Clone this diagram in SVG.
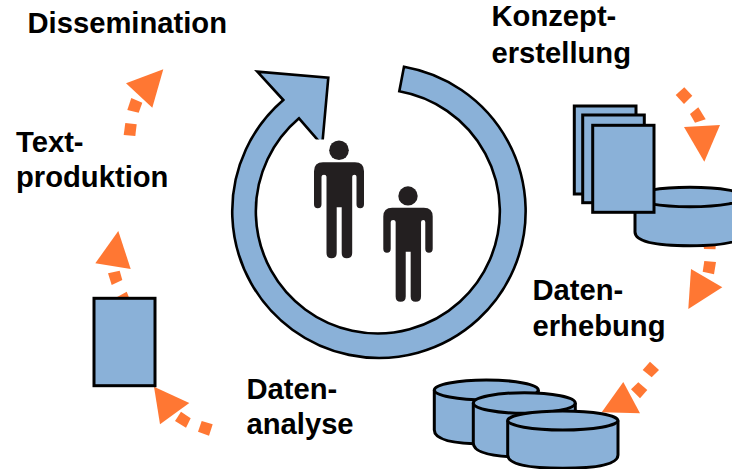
<svg xmlns="http://www.w3.org/2000/svg" xmlns:xlink="http://www.w3.org/1999/xlink" width="732" height="469" viewBox="0 0 732 469">
<style>
.t{font-family:"Liberation Sans",Arial,sans-serif;font-weight:700;font-size:29.2px;fill:#000}
.b{fill:#8AB1D8;stroke:#000;stroke-width:3;stroke-linejoin:miter}
.r{stroke-width:2.6}
.o{fill:#FF7733}
.p{fill:#231F20}
</style>
<defs>
<g id="person">
<circle cx="25" cy="-12" r="9.8"/>
<path d="M9 0H41Q50 0 50 9V42Q50 46 46.2 46Q42.5 46 42.5 42V14.5Q42.5 12.5 40.5 12.5Q38.2 12.5 38.2 14.5V90.5Q38.2 96 32.7 96Q27.7 96 27.7 90.5V45H22.7V90.5Q22.7 96 17.5 96Q12.5 96 12.5 90.5V14.5Q12.5 12.5 10 12.5Q7.5 12.5 7.5 14.5V42Q7.5 46 3.7 46Q0 46 0 42V9Q0 0 9 0Z"/>
</g>
</defs>
<rect width="732" height="469" fill="#fff"/>
<g id="connectors">
<g id="c1" class="o"><polygon points="675.7,95 684.3,87.3 692.3,95.7 684,104"/><polygon points="690,114 698.3,107.3 705.7,119.3 695,122.7"/><polygon points="684,127 720,125 704.3,161.7"/></g>
<g id="c2" class="o"><polygon points="703,240 716,240 715.5,249.3 704,249"/><polygon points="704.3,261 716,262 714,274.3 702.7,271.7"/><polygon points="691,269 722.3,287.3 688.3,309"/></g>
<g id="c3" class="o"><polygon points="642.7,370 650,361.7 659,370 651.7,377.3"/><polygon points="631,389.3 638.3,382.3 647.3,390 640,398.3"/><polygon points="623.3,382 640,413.3 601.7,412.3"/></g>
<g id="c4" class="o"><polygon points="201.7,421 212.7,424.3 209,435.7 198,431.7"/><polygon points="181,411.7 190.7,418.3 186,427.7 175,421"/><polygon points="154,386.7 189.3,403 160,424.3"/></g>
<g id="c5" class="o"><polygon points="116.7,297.3 126.7,291.7 130,300 118,300"/><polygon points="108,273.3 119.7,270.7 122.3,280 111.7,285"/><polygon points="118.3,231 130.7,269 95.3,263.3"/></g>
<g id="c6" class="o"><polygon points="125.3,123 136.7,124.3 135.3,136 123.7,135"/><polygon points="131.3,98 142.3,102.7 138.7,112.7 127.3,110"/><polygon points="163.3,69.3 152.3,107.7 126,83.3"/></g>
</g>
<g id="cycle-arrow">
<path class="b r" d="M404 66.7A146.7 146.7 0 1 1 283.3 100L257.3 71.7L328.3 77.7L322.2 145L299 118.3A122 122 0 1 0 399.3 91.3Z"/>
</g>
<g id="people">
<rect x="304" y="139.5" width="30" height="14" fill="#fff"/>
<g id="person-1" class="p"><use href="#person" xlink:href="#person" transform="translate(314 162.3)"/></g>
<g id="person-2" class="p"><use href="#person" xlink:href="#person" transform="translate(383.3 207.7) scale(.988 .98)"/></g>
</g>
<g id="documents">
<rect class="b" x="574.3" y="106" width="61.7" height="88"/>
<rect class="b" x="582.7" y="115" width="61.6" height="87.7"/>
</g>
<g id="database-top">
<path class="b" d="M635 197V232Q635 245.7 690 245.7T745 232V197"/>
<ellipse class="b" cx="690" cy="197" rx="55" ry="9.7"/>
</g>
<g id="document-front"><rect class="b" x="592.7" y="125.3" width="61.3" height="87"/></g>
<g id="database-1">
<path class="b" d="M434.3 390V430Q434.3 444 486.3 444T538.3 430V390"/>
<ellipse class="b" cx="486.3" cy="390" rx="52" ry="10"/>
</g>
<g id="database-2">
<path class="b" d="M473.3 403V443Q473.3 457 524.3 457T575.3 443V403"/>
<ellipse class="b" cx="524.3" cy="403" rx="51" ry="10.3"/>
</g>
<g id="database-3">
<path class="b" d="M507.7 420.5V455Q507.7 468.3 562.8 468.3T618 455V420.5"/>
<ellipse class="b" cx="562.8" cy="420.5" rx="55.1" ry="9.5"/>
</g>
<g id="text-doc"><rect class="b" x="94" y="298.3" width="61" height="87.4"/></g>
<g id="labels">
<text class="t" x="27.5" y="33">Dissemination</text>
<text class="t" x="491.5" y="26">Konzept-</text>
<text class="t" x="491.5" y="63">erstellung</text>
<text class="t" x="16" y="151.5">Text-</text>
<text class="t" x="16" y="186.5">produktion</text>
<text class="t" x="532.5" y="300">Daten-</text>
<text class="t" x="532.5" y="335.5">erhebung</text>
<text class="t" x="246.5" y="399">Daten-</text>
<text class="t" x="246.5" y="434">analyse</text>
</g>
</svg>
